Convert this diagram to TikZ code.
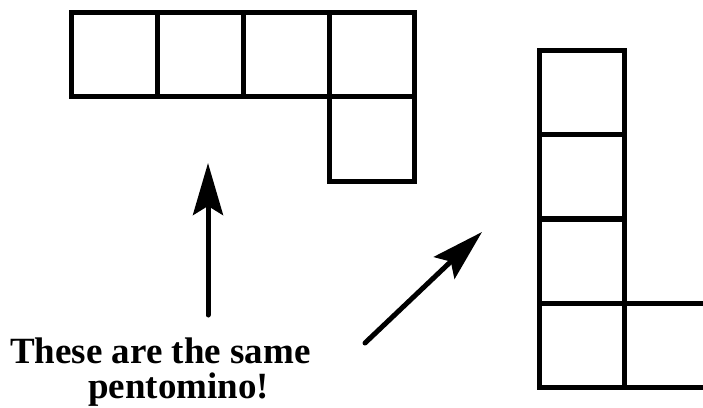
\documentclass[tikz,border=0pt]{standalone}
\usepackage{fontspec}
\setmainfont{Liberation Serif}
\usetikzlibrary{arrows.meta}
\begin{document}
\begin{tikzpicture}[x=1pt,y=-1pt,
  cellh/.style={draw, line width=5pt, minimum width=85.8pt, minimum height=84.5pt, inner sep=0pt},
  cellv/.style={draw, line width=5pt, minimum width=85pt, minimum height=84pt, inner sep=0pt},
  bigarrow/.style={line width=5pt, line cap=round, -{Stealth[length=52pt, width=30pt, inset=9pt]}},
  label/.style={anchor=base west, inner sep=0pt, font=\fontsize{37}{37}\selectfont\bfseries}]
\useasboundingbox (0,0) rectangle (703,407);
\clip (0,0) rectangle (703,407);
% horizontal pentomino
\node[cellh] (h1) at (114.5,54.5) {};
\node[cellh] (h2) at (200.3,54.5) {};
\node[cellh] (h3) at (286.1,54.5) {};
\node[cellh] (h4) at (371.9,54.5) {};
\node[cellh] (h5) at (371.9,139) {};
% vertical pentomino
\node[cellv] (v1) at (581.5,92) {};
\node[cellv] (v2) at (581.5,176.5) {};
\node[cellv] (v3) at (581.5,261) {};
\node[cellv] (v4) at (581.5,345.5) {};
\node[cellv] (v5) at (666.5,345.5) {};
% text
\node[label] (t1) at (10,363) {These are the same};
\node[label] (t2) at (88,398) {pentomino!};
% arrows
\coordinate (a1s) at (208,315);
\coordinate (a1e) at (208,163);
\coordinate (a2s) at (365,343);
\coordinate (a2e) at (482,232);
\draw[bigarrow] (a1s) -- (a1e);
\draw[bigarrow] (a2s) -- (a2e);
\end{tikzpicture}
\end{document}
